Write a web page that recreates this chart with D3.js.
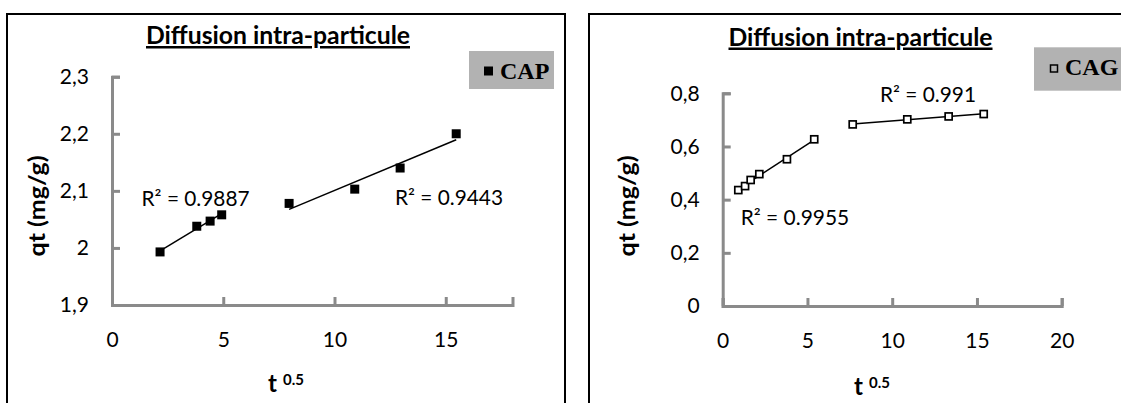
<!DOCTYPE html>
<html><head><meta charset="utf-8">
<script src="https://cdn.jsdelivr.net/npm/d3@7"></script>
<style>
body{margin:0;background:#fff}
svg{display:block}
text{font-family:Lato,"Open Sans",sans-serif;fill:#000}
</style></head><body>
<svg id="c" width="1121" height="403"></svg>
<script>
// ---- data ----
const capX = [2.16, 3.81, 4.41, 4.93, 7.96, 10.91, 12.95, 15.47];
const capY = [1.993, 2.038, 2.047, 2.058, 2.078, 2.103, 2.140, 2.200];
const capSegments = [[0, 4], [4, 8]];
const capR2 = ["R² = 0.9887", "R² = 0.9443"];
const capR2Pos = [[1.33, 2.074], [12.72, 2.075]];
const capXTicks = [0, 5, 10, 15];
const capXLabels = ["0", "5", "10", "15"];
const capYTicks = [1.9, 2.0, 2.1, 2.2, 2.3];
const capYLabels = ["1,9", "2", "2,1", "2,2", "2,3"];

const cagX = [0.92, 1.32, 1.65, 2.16, 3.79, 5.40, 7.67, 10.89, 13.33, 15.40];
const cagY = [0.436, 0.451, 0.474, 0.496, 0.552, 0.627, 0.683, 0.702, 0.713, 0.722];
const cagSegments = [[0, 6], [6, 10]];
const cagR2 = ["R² = 0.9955", "R² = 0.991"];
const cagR2Pos = [[1.06, 0.305], [9.28, 0.768]];
const cagXTicks = [0, 5, 10, 15, 20];
const cagXLabels = ["0", "5", "10", "15", "20"];
const cagYTicks = [0, 0.2, 0.4, 0.6, 0.8];
const cagYLabels = ["0", "0,2", "0,4", "0,6", "0,8"];

const titleText = "Diffusion intra-particule";
const yTitle = "qt (mg/g)";

const svg = d3.select("#c");

function linfit(xs, ys) {
  const n = xs.length, mx = d3.mean(xs), my = d3.mean(ys);
  let sxy = 0, sxx = 0;
  for (let i = 0; i < n; i++) { sxy += (xs[i]-mx)*(ys[i]-my); sxx += (xs[i]-mx)**2; }
  const b = sxy/sxx, a = my - b*mx;
  return x => a + b*x;
}

function panel(o) {
  const g = svg.append("g");
  g.append("rect").attr("x", o.box[0]).attr("y", o.box[1]).attr("width", o.box[2]).attr("height", o.box[3])
    .attr("fill", "none").attr("stroke", "#000").attr("stroke-width", 2);
  const x = d3.scaleLinear().domain(o.xDom).range(o.xRange);
  const y = d3.scaleLinear().domain(o.yDom).range(o.yRange);

  const xa = d3.axisBottom(x).tickValues(o.xTicks).tickFormat((d, i) => o.xLabels[i])
    .tickSizeInner(-8).tickSizeOuter(-8).tickPadding(27);
  const ya = d3.axisLeft(y).tickValues(o.yTicks).tickFormat((d, i) => o.yLabels[i])
    .tickSizeInner(-8).tickSizeOuter(-8).tickPadding(23);
  const gx = g.append("g").attr("transform", `translate(0,${o.yRange[0]})`).call(xa);
  const gy = g.append("g").attr("transform", `translate(${o.xRange[0]},0)`).call(ya);
  [gx, gy].forEach(a => {
    a.select(".domain").attr("stroke", "#8a8a8a").attr("stroke-width", 3);
    a.selectAll(".tick line").attr("stroke", "#8a8a8a").attr("stroke-width", 3);
    a.selectAll(".tick text").attr("font-size", 21).attr("font-family", "Lato").attr("fill", "#000");
  });

  o.segments.forEach(([s, e]) => {
    const xs = o.xs.slice(s, e), ys = o.ys.slice(s, e);
    const f = linfit(xs, ys);
    const x0 = d3.min(xs), x1 = d3.max(xs);
    g.append("line").attr("x1", x(x0)).attr("y1", y(f(x0))).attr("x2", x(x1)).attr("y2", y(f(x1)))
      .attr("stroke", "#000").attr("stroke-width", 1.5);
  });

  const sz = o.filled ? 9 : 7;
  g.selectAll("rect.pt").data(o.xs.map((d, i) => [d, o.ys[i]])).join("rect").attr("class", "pt")
    .attr("x", d => x(d[0]) - sz/2).attr("y", d => y(d[1]) - sz/2)
    .attr("width", sz).attr("height", sz)
    .attr("fill", o.filled ? "#000" : "#fff").attr("stroke", "#000")
    .attr("stroke-width", o.filled ? 0 : 1.7);

  o.r2.forEach((t, i) => {
    g.append("text").attr("x", x(o.r2Pos[i][0])).attr("y", y(o.r2Pos[i][1]))
      .attr("font-size", 21).attr("textLength", o.r2Len[i]).attr("lengthAdjust", "spacingAndGlyphs").text(t);
  });

  g.append("text").attr("x", o.title[0]).attr("y", o.title[1]).attr("text-anchor", "middle")
    .attr("font-size", 25).attr("font-weight", "bold").attr("textLength", 264)
    .attr("lengthAdjust", "spacingAndGlyphs").style("text-decoration", "underline").text(titleText);

  g.append("text").attr("transform", `translate(${o.yt[0]},${o.yt[1]}) rotate(-90)`)
    .attr("text-anchor", "middle").attr("font-size", 23).attr("font-weight", "bold")
    .attr("textLength", 101).attr("lengthAdjust", "spacingAndGlyphs").text(yTitle);

  const xt = g.append("text").attr("x", o.xt[0]).attr("y", o.xt[1]).attr("font-weight", "bold");
  xt.append("tspan").attr("font-size", 24).text("t");
  xt.append("tspan").attr("font-size", 15).attr("dx", 6).attr("dy", -7).text("0.5");

  g.append("rect").attr("x", o.leg[0]).attr("y", o.leg[1]).attr("width", o.leg[2]).attr("height", o.leg[3]).attr("fill", "#b2b2b2");
  const ms = o.filled ? 9 : 7;
  g.append("rect").attr("x", o.legM[0]).attr("y", o.legM[1]).attr("width", ms).attr("height", ms)
    .attr("fill", o.filled ? "#000" : "none").attr("stroke", "#000").attr("stroke-width", o.filled ? 0 : 1.5);
  g.append("text").attr("x", o.legT[0]).attr("y", o.legT[1])
    .attr("font-weight", "bold").attr("font-size", 24).style("font-family", "'Liberation Serif',serif").text(o.name);
}

panel({
  box: [7, 14, 558, 400], xDom: [0, 18], xRange: [112, 512.5], yDom: [1.9, 2.3], yRange: [305, 76.7],
  xTicks: capXTicks, xLabels: capXLabels, yTicks: capYTicks, yLabels: capYLabels,
  xs: capX, ys: capY, segments: capSegments, filled: true,
  r2: capR2, r2Pos: capR2Pos, r2Len: [108, 108],
  title: [278, 44], yt: [45, 206], xt: [268, 392],
  leg: [469, 51, 85, 38], legM: [484, 66.5], legT: [500, 78.5], name: "CAP"
});
panel({
  box: [589, 14, 540, 400], xDom: [0, 20], xRange: [722.7, 1061.7], yDom: [0, 0.8], yRange: [306, 93.3],
  xTicks: cagXTicks, xLabels: cagXLabels, yTicks: cagYTicks, yLabels: cagYLabels,
  xs: cagX, ys: cagY, segments: cagSegments, filled: false,
  r2: cagR2, r2Pos: cagR2Pos, r2Len: [108.6, 96],
  title: [860.5, 45.5], yt: [635, 206], xt: [854, 395],
  leg: [1034, 47.3, 90, 43.4], legM: [1050.5, 65], legT: [1065, 74.5], name: "CAG"
});
</script>
</body></html>
